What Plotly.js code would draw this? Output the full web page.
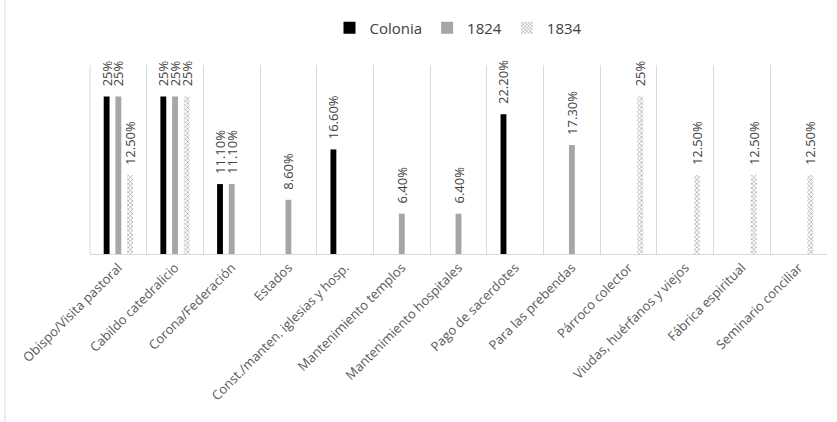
<!DOCTYPE html>
<html>
<head>
<meta charset="utf-8">
<script src="https://cdn.plot.ly/plotly-3.0.1.min.js"></script>
<style>html,body{margin:0;padding:0;background:#fff;}#chart{width:837px;height:422px;}</style>
</head>
<body>
<div id="chart"></div>
<script>
const categories = ["Obispo/Visita pastoral", "Cabildo catedralicio", "Corona/Federación", "Estados",
  "Const./manten. iglesias y hosp.", "Mantenimiento templos", "Mantenimiento hospitales",
  "Pago de sacerdotes", "Para las prebendas", "Párroco colector", "Viudas, huérfanos y viejos",
  "Fábrica espiritual", "Seminario conciliar"];
const colonia = [25, 25, 11.1, null, 16.6, null, null, 22.2, null, null, null, null, null];
const y1824   = [25, 25, 11.1, 8.6, null, 6.4, 6.4, null, 17.3, null, null, null, null];
const y1834   = [12.5, 25, null, null, null, null, null, null, null, 25, 12.5, 12.5, 12.5];
const seriesNames = ["Colonia", "1824", "1834"];

function fmt(v) {
  if (v === null) return "";
  return "\u00a0\u00a0\u00a0" + (Number.isInteger(v) ? v + "%" : v.toFixed(2) + "%");
}

const textFont = {family: "Open Sans, sans-serif", size: 13, color: "#404040"};
function mk(name, vals, marker) {
  return {
    type: "bar", name: name, x: categories, y: vals,
    text: vals.map(fmt), textposition: "outside", textangle: -90,
    textfont: textFont, constraintext: "none", cliponaxis: false,
    marker: marker, hoverinfo: "skip"
  };
}

const data = [
  mk(seriesNames[0], colonia, {color: "#000000"}),
  mk(seriesNames[1], y1824, {color: "#a6a6a6"}),
  mk(seriesNames[2], y1834, {color: "#ffffff", pattern: {shape: "x", fgcolor: "#a0a0a0", bgcolor: "#ffffff", size: 3, solidity: 0.4}})
];

const layout = {
  width: 837, height: 422,
  margin: {l: 90, r: 10, t: 65, b: 168},
  paper_bgcolor: "#ffffff", plot_bgcolor: "#ffffff",
  font: {family: "Open Sans, sans-serif", color: "#595959", size: 12},
  barmode: "group", bargap: 0.38, bargroupgap: 0.5,
  showlegend: true,
  legend: {orientation: "h", x: 0.5, xanchor: "center", y: 1.196, yanchor: "middle",
           font: {size: 15, color: "#404040"}, itemwidth: 30, traceorder: "normal"},
  xaxis: {
    type: "category", tickangle: -45, tickson: "boundaries", ticks: "",
    showgrid: true, gridcolor: "#d9d9d9", gridwidth: 1,
    showline: true, linecolor: "#d9d9d9", linewidth: 1,
    tickfont: {size: 13, color: "#595959"}, automargin: false
  },
  yaxis: {
    range: [0, 30], showgrid: false, showticklabels: false, zeroline: false, showline: false, ticks: ""
  },
  shapes: [
    {type: "line", xref: "paper", yref: "paper", x0: -0.1153, x1: -0.1153, y0: -1, y1: 1.5,
     line: {color: "#d9d9d9", width: 1}},
    {type: "line", xref: "paper", yref: "paper", x0: 0, x1: 0, y0: 0, y1: 1,
     line: {color: "#d9d9d9", width: 1}, layer: "below"}
  ]
};

Plotly.newPlot("chart", data, layout, {staticPlot: true, displayModeBar: false});
</script>
</body>
</html>
